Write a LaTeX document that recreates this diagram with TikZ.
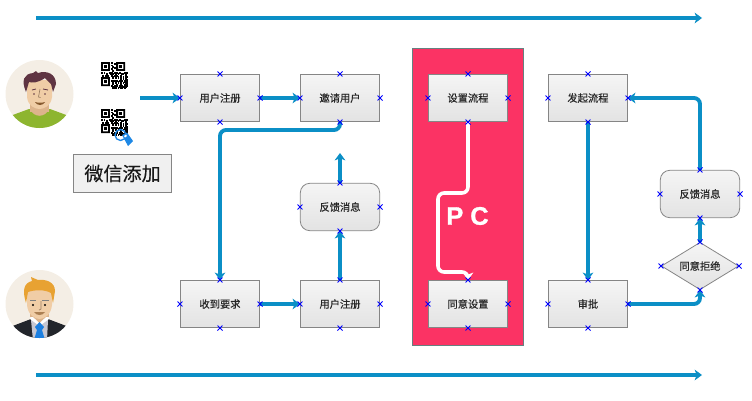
\documentclass[tikz,border=0pt]{standalone}
\usepackage{fontspec}
\setmainfont{Noto Sans CJK SC}[FakeBold=0.35]
\newfontfamily\pcfont{Liberation Sans}[BoldFeatures={FakeBold=1.2}]
\usetikzlibrary{arrows.meta,shapes.geometric,shapes.misc}

\definecolor{flowblue}{HTML}{0B8FC6}
\definecolor{pcred}{HTML}{FB3364}
\definecolor{boxline}{HTML}{858585}
\definecolor{skin}{HTML}{F0CDA6}
\definecolor{skindark}{HTML}{DDB48C}
\definecolor{avatarbg}{HTML}{F4EEE5}
\definecolor{shirtgreen}{HTML}{8DB52F}
\definecolor{hairdark}{HTML}{5F3442}
\definecolor{hairgold}{HTML}{E8A232}
\definecolor{suitdark}{HTML}{22252B}
\definecolor{tieblue}{HTML}{1C7FE0}
\definecolor{lensblue}{HTML}{1E88E5}

\tikzset{
    flowbox/.style={
        draw=boxline,
        line width=0.6pt,
        top color=black!4,
        bottom color=black!11,
        minimum width=59.5pt,
        minimum height=35.5pt,
        inner sep=0pt,
        text=black!85,
        font=\fontsize{7.7pt}{10pt}\selectfont},
    softbox/.style={flowbox,rounded corners=7pt},
    choicebox/.style={flowbox,diamond,aspect=1.65,minimum width=58pt,minimum height=35.5pt},
    linkline/.style={
        -{Stealth[length=5.5pt,width=8pt,inset=1.5pt]},
        flowblue,
        line width=2.9pt,
        rounded corners=4.5pt},
    pcline/.style={linkline,white,line width=2.7pt},
    timeline/.style={linkline,line width=2.7pt},
    xmark/.style={cross out,draw=blue,line width=0.7pt,minimum size=3pt,inner sep=0pt},
    qrcode/.pic={
        \foreach \cx/\cy in {0/0,12/0,0/12} {
            \fill[black,even odd rule] (\cx,\cy) rectangle (\cx+7,\cy+7) (\cx+1.4,\cy+1.4) rectangle (\cx+5.6,\cy+5.6);
            \fill[black] (\cx+2.2,\cy+2.2) rectangle (\cx+4.8,\cy+4.8);
        }
        \foreach \cx/\cy in {8/0,10/1,8/2,9/3,10/4,8/5,9/6,
                8/8,10/8,12/8,14/8,16/9,18/8,20/8,0/8,2/8,4/9,6/8,1/10,3/10,5/10,7/9,
                8/10,10/10,12/10,13/11,15/10,17/11,19/10,9/12,11/12,13/12,15/12,17/12,19/12,
                8/14,10/14,12/14,14/14,16/14,18/14,20/14,9/16,11/16,13/16,15/16,17/16,19/16,
                8/18,10/18,12/18,14/18,16/18,18/18,20/18,9/20,11/20,13/20,15/20,18/20,20/11,20/16,
                9/9,11/9,13/9,17/9,19/9,9/11,11/11,15/13,17/13,19/13,9/14,11/15,13/15,15/15,
                18/15,20/13,9/17,12/17,15/17,18/17,20/17,9/19,11/19,14/19,17/19,19/19,10/20,16/20}
            \fill[black] (\cx,\cy) rectangle ++(1.5,1.5);
    }
}

\begin{document}
\begin{tikzpicture}[x=0.75pt,y=-0.75pt]
    \useasboundingbox (0,0) rectangle (752,400);

    % pc panel
    \draw[draw=gray!80!teal,fill=pcred,line width=0.6pt] (412.5,48.5) rectangle (523.5,345.5);

    % avatars
    \fill[avatarbg] (39.5,94) circle (34);
    \begin{scope}
        \clip (39.5,94) circle (34);
        \fill[shirtgreen] (10,116) -- (29,109) -- (50,109) -- (69,116) -- (69,130) -- (10,130) -- cycle;
        \fill[skindark] (30,100) rectangle (49,112);
        \fill[skindark] (30,109) .. controls (34,118) and (45,118) .. (49,109) -- cycle;
        \fill[skin] (27,80) -- (52,80) -- (52,97) .. controls (51,106) and (44,109) .. (39.5,109) .. controls (35,109) and (28,106) .. (27,97) -- cycle;
        \fill[hairdark] (26,92) .. controls (21,80) and (24,74) .. (33,73) -- (36,71) -- (38,73) .. controls (47,70) and (56,74) .. (56,84) -- (53,92) -- (51,84) -- (45,78) .. controls (38,83) and (32,83) .. (29,82) -- cycle;
        \draw[hairdark,line width=0.6pt] (32,90) -- (36,89) (43,89) -- (48,90);
        \fill[hairdark] (34,94) circle (0.9) (45,94) circle (0.9);
        \draw[skindark!70!black,line width=0.5pt] (40,89) -- (38.5,97) -- (40.5,97.5);
        \fill[brown!70!black] (35,102) .. controls (38,103) and (42,103) .. (45,102) .. controls (43,106) and (37,106) .. (35,102) -- cycle;
    \end{scope}

    \fill[avatarbg] (39.5,304) circle (34);
    \begin{scope}
        \clip (39.5,304) circle (34);
        \fill[suitdark] (10,327) -- (31,319) -- (48,319) -- (69,327) -- (69,340) -- (10,340) -- cycle;
        \fill[blue!10!gray!40] (31,320) -- (48,320) -- (47,340) -- (33,340) -- cycle;
        \fill[white] (30,319) -- (39.5,326) -- (49,319) -- (47,314) -- (32,314) -- cycle;
        \fill[skindark] (30,305) rectangle (49,317);
        \fill[skindark] (30,314) -- (39.5,323) -- (49,314) -- cycle;
        \fill[tieblue] (39.5,322) -- (44,327) -- (42,330) -- (45,340) -- (34,340) -- (37,330) -- (35,327) -- cycle;
        \fill[skin] (27,290) -- (52,290) -- (52,305) .. controls (51,315) and (44,319) .. (39.5,319) .. controls (35,319) and (28,315) .. (27,305) -- cycle;
        \fill[hairgold] (26,303) .. controls (22,290) and (24,283) .. (32,281) -- (31,277) -- (38,280) .. controls (46,279) and (55,282) .. (55,291) -- (53,303) -- (51,293) .. controls (44,289) and (34,290) .. (28,292) -- cycle;
        \fill[black] (33,305) circle (1.1) (45,305) circle (1.1);
        \draw[black!50,line width=0.5pt] (30,300) -- (36,300) (42,300) -- (49,300);
        \draw[skindark!70!black,line width=0.5pt] (41,301) -- (41,309) -- (39,310);
        \fill[brown!70!gray] (34,312) -- (45,312) .. controls (43,316) and (36,316) .. (34,312) -- cycle;
    \end{scope}

    % qr codes
    \pic[scale=1.27] at (101,62) {qrcode};
    \pic[scale=1.27] at (101,109) {qrcode};
    \draw[lensblue,line width=1pt] (120.5,135) circle (5.5);
    \fill[lensblue] (122,135) -- (127,132.5) -- (133,141) -- (128,146) -- cycle;
    \fill[white] (124,136) -- (126,134.5) -- (127,136) -- (125,137.5) -- cycle;

    % label under the qr codes
    \node[draw=boxline,fill=black!6,line width=0.7pt,minimum width=74pt,minimum height=29pt,inner sep=0pt,
        text=black!90,font=\fontsize{14.3pt}{16pt}\selectfont] (wechat) at (122.5,173.5) {微信添加};

    % flow boxes
    \node[flowbox] (regone) at (220,98) {用户注册};
    \node[flowbox] (invite) at (340,98) {邀请用户};
    \node[softbox] (backone) at (340,207) {反馈消息};
    \node[flowbox] (receive) at (220,304) {收到要求};
    \node[flowbox] (regtwo) at (340,304) {用户注册};
    \node[flowbox] (setup) at (468,98) {设置流程};
    \node[flowbox] (agree) at (468,304) {同意设置};
    \node[flowbox] (start) at (588,98) {发起流程};
    \node[flowbox] (approve) at (588,304) {审批};
    \node[softbox] (backtwo) at (700,194) {反馈消息};
    \node[choicebox] (choice) at (700,266) {同意拒绝};

    \node[white,draw=none,font=\pcfont\bfseries\fontsize{19pt}{21pt}\selectfont] (pclabel) at (467.5,216) {P C};

    % free ends
    \coordinate (topstart) at (36,18);
    \coordinate (topend) at (702,18);
    \coordinate (botstart) at (36,375);
    \coordinate (botend) at (702,375);
    \coordinate (qrout) at (140,98);
    \coordinate (backup) at (340,153);

    \draw[timeline] (topstart) -- (topend);
    \draw[timeline] (botstart) -- (botend);

    \draw[linkline] (qrout) -- (regone.west);
    \draw[linkline] (regone.east) -- (invite.west);
    \draw[linkline] (invite.south) -- (340,130) -- (220,130) -- (receive.north);
    \draw[linkline] (receive.east) -- (regtwo.west);
    \draw[linkline] (regtwo.north) -- (backone.south);
    \draw[linkline] (backone.north) -- (backup);
    \draw[pcline] (setup.south) -- (468,193) -- (438,193) -- (438,272) -- (468,272) -- (agree.north);
    \draw[linkline] (start.south) -- (approve.north);
    \draw[linkline] (approve.east) -- (700,304) -- (choice.south);
    \draw[linkline] (choice.north) -- (backtwo.south);
    \draw[linkline] (backtwo.north) -- (700,98) -- (start.east);

    % small crosses on the connection points
    \foreach \n in {regone,invite,backone,receive,regtwo,setup,agree,start,approve,backtwo,choice}
        \foreach \a in {north,south,east,west}
            \node[xmark] (\n-\a) at (\n.\a) {};

\end{tikzpicture}
\end{document}
